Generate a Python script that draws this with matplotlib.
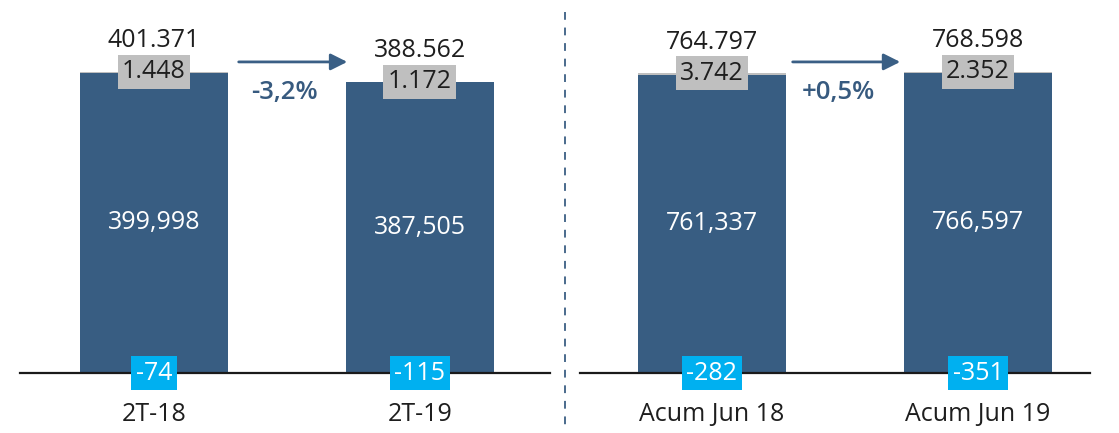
import matplotlib.pyplot as plt
from matplotlib.lines import Line2D

plt.rcParams['font.family'] = ['Open Sans', 'DejaVu Sans']

# datos por panel
cats_q = ['2T-18', '2T-19']
main_q = [399998, 387505]
gray_q = [1448, 1172]
neg_q = [-74, -115]
total_q = [401371, 388562]

cats_a = ['Acum Jun 18', 'Acum Jun 19']
main_a = [761337, 766597]
gray_a = [3742, 2352]
neg_a = [-282, -351]
total_a = [764797, 768598]

blue = '#385D82'
grey = '#BFBFBF'
cyan = '#00B0F0'
txt = '#1E1E1E'
fs = 18

dpi = 100
fig = plt.figure(dpi=dpi, figsize=(1119 / dpi, 433 / dpi))


def dots(v):
    return f'{v:,}'.replace(',', '.')


def panel(rect, xlim, cats, main, gray, neg, total, arrow_x, pct_x):
    ax = fig.add_axes(rect)
    ax.axis('off')
    x = list(range(len(cats)))
    w = 0.556
    ymax = max(total) * 373 / 301
    ax.set_xlim(*xlim)
    ax.set_ylim(0, ymax)
    ax.bar(x, neg, width=w, color=cyan, clip_on=False)
    ax.bar(x, main, width=w, color=blue)
    ax.bar(x, gray, bottom=main, width=w, color=grey)
    ax.axhline(0, color='#1A1A1A', lw=1.6, clip_on=False)
    for i in x:
        top = main[i] + gray[i]
        ax.text(i, top / 2, f'{main[i]:,}', ha='center', va='center',
                color='white', fontsize=fs)
        ax.text(i, top, dots(gray[i]), ha='center', va='center', color=txt,
                fontsize=fs,
                bbox=dict(boxstyle='square,pad=0.18', fc=grey, ec='none'))
        ax.text(i, top + ymax * 0.083, dots(total[i]), ha='center',
                va='center', color=txt, fontsize=fs)
        ax.text(i, 0, str(neg[i]), ha='center', va='center', color='white',
                fontsize=fs,
                bbox=dict(boxstyle='square,pad=0.18', fc=cyan, ec='none'))
        ax.text(i, -0.11, cats[i], ha='center', va='center', color=txt,
                fontsize=fs, transform=ax.get_xaxis_transform())
    ax.annotate('', xy=(arrow_x[1], 0.834), xytext=(arrow_x[0], 0.834),
                xycoords=ax.get_xaxis_transform(),
                arrowprops=dict(arrowstyle='-|>,head_length=1.0,head_width=0.5',
                                color='#3A5F85', lw=2))
    pct = (total[1] / total[0] - 1) * 100
    s = f'{pct:+.1f}%'.replace('.', ',')
    ax.text(pct_x, 0.751, s, ha='center', va='center', color='#375A7F',
            fontsize=18.5, fontweight='semibold',
            transform=ax.get_xaxis_transform())
    return ax


panel([20 / 1119, 60 / 433, 530 / 1119, 373 / 433], (-0.504, 1.489),
      cats_q, main_q, gray_q, neg_q, total_q, (0.308, 0.737), 0.49)
panel([580 / 1119, 60 / 433, 510 / 1119, 373 / 433], (-0.496, 1.421),
      cats_a, main_a, gray_a, neg_a, total_a, (0.293, 0.718), 0.474)

fig.add_artist(Line2D([565 / 1119] * 2, [1 - 12 / 433, 1 - 425 / 433],
                      transform=fig.transFigure, color='#4A6A8C', lw=1.4,
                      linestyle=(0, (4, 4))))

fig.savefig('out.png')
